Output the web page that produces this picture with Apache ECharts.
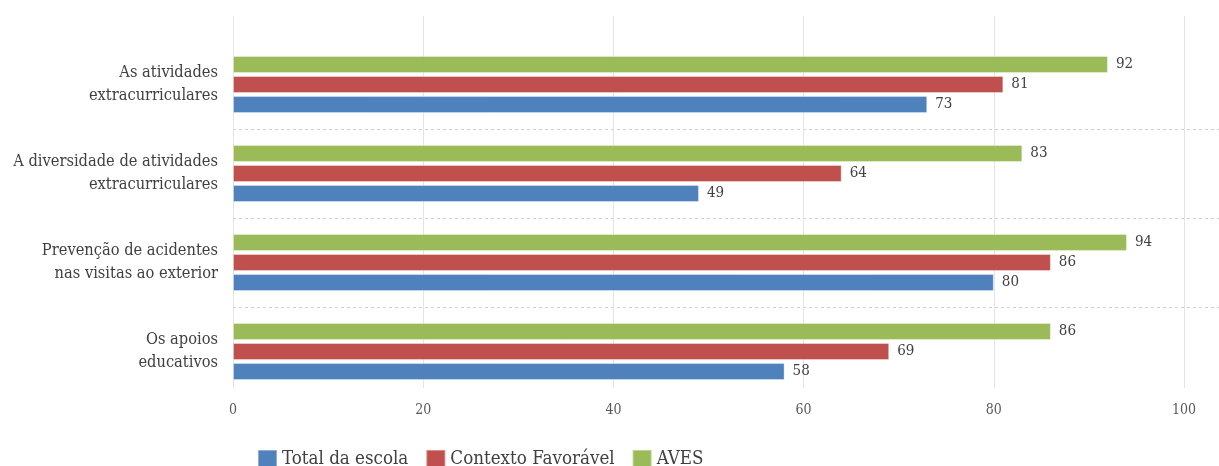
<!DOCTYPE html>
<html><head><meta charset="utf-8">
<script src="https://cdn.jsdelivr.net/npm/echarts@6/dist/echarts.min.js"></script>
<style>html,body{margin:0;padding:0;background:#fff}#c{width:1219px;height:466px}</style>
</head><body><div id="c"></div>
<script>
const categories = ["As atividades\nextracurriculares", "A diversidade de atividades\nextracurriculares", "Prevenção de acidentes\nnas visitas ao exterior", "Os apoios\neducativos"];
const seriesNames = ["Total da escola", "Contexto Favorável", "AVES"];
const totalEscola = [73, 49, 80, 58];
const contextoFavoravel = [81, 64, 86, 69];
const aves = [92, 83, 94, 86];
const xTicks = [0, 20, 40, 60, 80, 100];

const FONT = "'DejaVu Serif Condensed', 'DejaVu Serif', serif";
const colors = ["#4f81bd", "#c0504d", "#9bbb59"];
const values = [totalEscola, contextoFavoravel, aves];

const chart = echarts.init(document.getElementById('c'));
// series drawn top-to-bottom in each band: AVES, Contexto, Total
const order = [2, 1, 0];
chart.setOption({
  animation: false,
  textStyle: { fontFamily: FONT },
  grid: [
    { left: 233, right: 35, top: 16, bottom: 78 },
    { left: 233, right: 0, top: 40, bottom: 70 },
    { left: 233, right: 35, top: 40, bottom: 70 }
  ],
  xAxis: [
    { gridIndex: 0, type: 'value', min: xTicks[0], max: xTicks[xTicks.length-1], interval: 20,
      axisLine: { show: false }, axisTick: { show: false },
      axisLabel: { color: '#595959', fontSize: 14, fontFamily: FONT, margin: 15 },
      splitLine: { lineStyle: { color: '#e4e4e4', width: 1 } } },
    { gridIndex: 1, type: 'value', show: false, min: 0, max: 100 },
    { gridIndex: 2, type: 'value', show: false, min: 0, max: 100 }
  ],
  yAxis: [
    { gridIndex: 0, type: 'category', data: categories, show: false },
    { gridIndex: 1, type: 'category', data: categories, inverse: true,
      axisLine: { show: false }, axisTick: { show: false }, axisLabel: { show: false },
      splitLine: { show: true, showMinLine: false, showMaxLine: false,
        lineStyle: { color: '#d0d0d0', type: [3, 3], width: 1 } } },
    { gridIndex: 2, type: 'category', data: categories, inverse: true,
      axisLine: { show: false }, axisTick: { show: false }, splitLine: { show: false },
      axisLabel: { color: '#404040', fontSize: 16.3, fontFamily: FONT, margin: 15, lineHeight: 23,
        align: 'right', padding: [5, 0, 0, 0] } }
  ],
  legend: {
    left: 252, top: 444, itemWidth: 19, itemHeight: 18, itemGap: 17,
    icon: 'rect',
    textStyle: { color: '#404040', fontSize: 18.6, fontFamily: FONT },
    data: seriesNames
  },
  series: order.map(i => ({
    name: seriesNames[i], type: 'bar', xAxisIndex: 2, yAxisIndex: 2,
    data: values[i], barWidth: 17, barGap: '18%',
    itemStyle: { color: colors[i], borderColor: 'rgba(255,255,255,0.35)', borderWidth: 1 },
    label: { show: true, position: 'right', distance: 8, color: '#404040', fontSize: 15, fontFamily: FONT }
  }))
});
</script></body></html>
